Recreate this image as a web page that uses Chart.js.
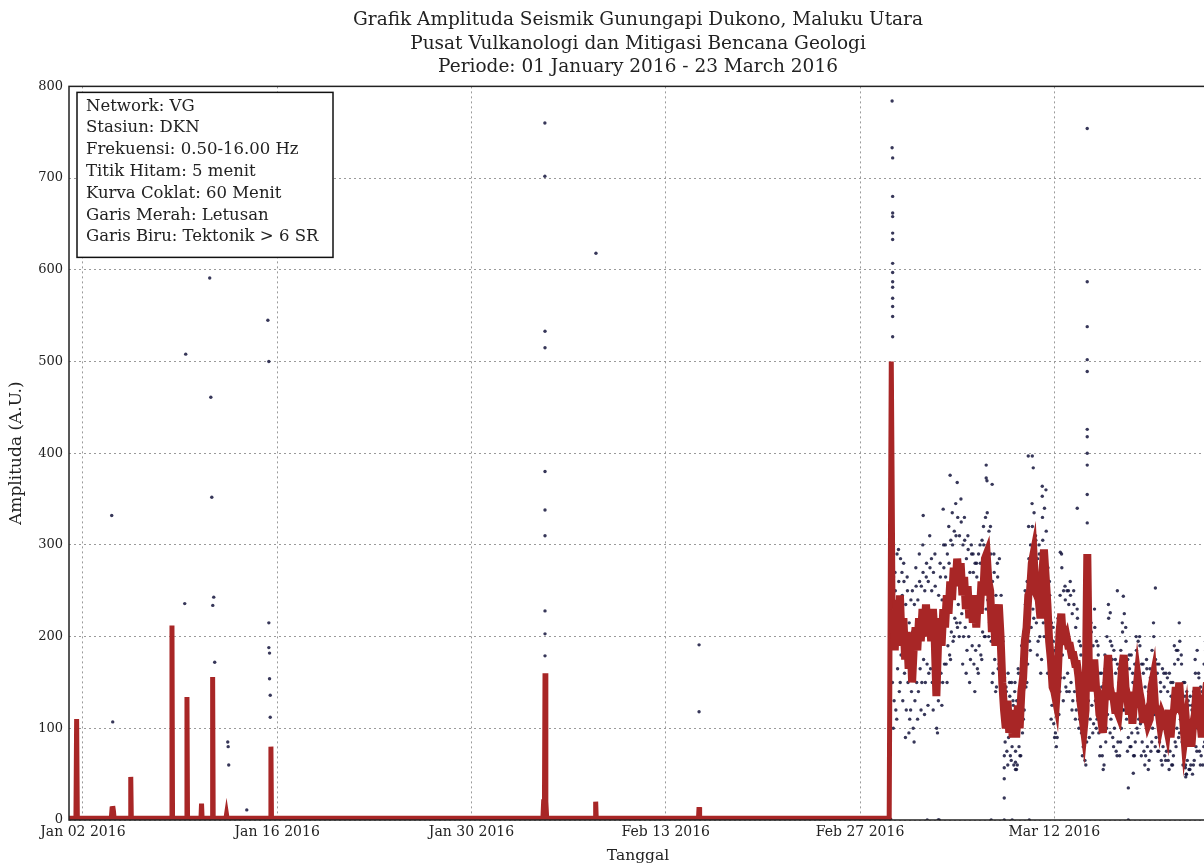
<!DOCTYPE html>
<html>
<head>
<meta charset="utf-8">
<script src="https://cdn.jsdelivr.net/npm/chart.js@4.4.1/dist/chart.umd.min.js"></script>
<style>
  html, body { margin: 0; padding: 0; background: #fff; overflow: hidden; }
  #wrap { width: 1212px; height: 868px; }
</style>
</head>
<body>
<div id="wrap"><canvas id="seismikChart" width="1212" height="868"></canvas></div>
<script>
// x values are days since 01 Jan 2016 00:00
const tickDays = [1, 15, 29, 43, 57, 71];
const tickLabels = ['Jan 02 2016', 'Jan 16 2016', 'Jan 30 2016', 'Feb 13 2016', 'Feb 27 2016', 'Mar 12 2016'];

const titleLines = [
    'Grafik Amplituda Seismik Gunungapi Dukono, Maluku Utara',
    'Pusat Vulkanologi dan Mitigasi Bencana Geologi',
    'Periode: 01 January 2016 - 23 March 2016'
];

const infoLines = [
    'Network: VG',
    'Stasiun: DKN',
    'Frekuensi: 0.50-16.00 Hz',
    'Titik Hitam: 5 menit',
    'Kurva Coklat: 60 Menit',
    'Garis Merah: Letusan',
    'Garis Biru: Tektonik > 6 SR'
];

// 60 minute curve, quiet period (day, amplitude)
const redEarly = [
    [0, 2], [0.5, 2], [0.55, 110], [0.6, 2], [3.05, 2], [3.1, 12], [3.15, 15], [3.2, 10], [3.25, 2],
    [4.41, 2], [4.45, 47], [4.49, 2], [7.38, 2], [7.42, 212], [7.46, 2], [8.46, 2], [8.5, 134], [8.54, 2],
    [9.51, 2], [9.55, 18], [9.59, 2], [10.31, 2], [10.35, 156], [10.39, 2], [11.31, 2], [11.35, 6], [11.39, 2],
    [14.51, 2], [14.55, 80], [14.59, 2], [34.15, 2], [34.2, 20], [34.26, 20], [34.3, 160], [34.36, 20], [34.42, 2],
    [37.91, 2], [37.95, 20], [37.99, 2], [45.36, 2], [45.4, 14], [45.44, 2], [59.1, 2]
];

// 60 minute curve, active period, one value every 3 hours from day 59.125
const activeStart = 59.125;
const activeStep = 0.125;
const redActive = [
    2, 500, 230, 185, 240, 200, 245, 190,
    220, 175, 205, 165, 200, 150, 190, 210,
    185, 220, 195, 230, 200, 235, 205, 225,
    195, 230, 200, 135, 195, 220, 190, 230,
    210, 245, 225, 260, 240, 275, 255, 285,
    260, 280, 245, 265, 230, 255, 220, 245,
    215, 240, 210, 245, 225, 260, 245, 285,
    290, 260, 250, 205, 230, 190, 220, 235,
    200, 150, 120, 100, 130, 95, 120, 90,
    115, 90, 125, 100, 140, 155, 195, 210,
    245, 250, 280, 290, 255, 245, 240, 220,
    265, 295, 265, 235, 195, 175, 145, 140,
    130, 160, 205, 225, 195, 195, 200, 190,
    190, 180, 180, 170, 170, 155, 130, 115,
    100, 120, 290, 145, 170, 140, 175, 145,
    140, 115, 110, 95, 130, 150, 180, 145,
    135, 135, 120, 120, 115, 135, 165, 180,
    145, 135, 115, 140, 105, 130, 135, 155,
    140, 130, 110, 110, 115, 105, 110, 145,
    155, 125, 120, 120, 105, 115, 110, 110,
    100, 120, 90, 115, 120, 145, 125, 150,
    120, 115, 90, 105, 80, 100, 80, 105,
    115, 145, 110, 110, 90, 130, 135, 150
];

// 5 minute points around the curve in the active period (same 3 hour slots)
const dotsA = [
    1, 280, 265, 250, 290, 260, 285, 245,
    260, 235, 250, 215, 240, 205, 235, 255,
    240, 260, 255, 270, 250, 280, 260, 275,
    250, 270, 255, 180, 245, 265, 240, 275,
    265, 290, 280, 305, 300, 315, 310, 330,
    310, 325, 300, 305, 285, 295, 270, 290,
    270, 280, 265, 290, 280, 305, 300, 330,
    335, 315, 290, 260, 270, 245, 265, 285,
    245, 195, 155, 140, 160, 135, 150, 125,
    150, 130, 160, 145, 175, 205, 235, 260,
    285, 300, 320, 335, 305, 285, 290, 265,
    305, 340, 315, 275, 245, 215, 195, 185,
    175, 205, 245, 275, 250, 240, 250, 235,
    245, 225, 235, 210, 220, 195, 180, 160,
    140, 160, 190, 195, 205, 190, 210, 195,
    180, 160, 145, 140, 165, 200, 220, 195,
    175, 185, 160, 170, 150, 185, 205, 225,
    195, 175, 165, 180, 150, 170, 185, 195,
    190, 170, 160, 145, 165, 140, 155, 185,
    200, 175, 160, 170, 140, 165, 145, 160,
    140, 160, 135, 150, 170, 185, 175, 195,
    170, 150, 135, 140, 125, 135, 120, 140,
    160, 185, 155, 145, 135, 170, 185, 195
];
const dotsB = [
    1, 150, 130, 120, 165, 140, 180, 130,
    160, 120, 150, 110, 140, 100, 130, 150,
    140, 165, 150, 175, 150, 170, 160, 165,
    150, 175, 150, 95, 150, 160, 150, 170,
    170, 190, 180, 205, 195, 220, 215, 235,
    215, 225, 200, 210, 185, 200, 175, 190,
    170, 185, 165, 190, 180, 205, 200, 230,
    240, 215, 195, 160, 175, 145, 165, 180,
    160, 110, 85, 75, 90, 70, 80, 60,
    75, 60, 80, 70, 95, 120, 145, 170,
    195, 210, 230, 245, 215, 195, 200, 175,
    215, 250, 225, 185, 155, 125, 105, 95,
    90, 115, 155, 180, 155, 145, 160, 140,
    150, 130, 140, 120, 130, 110, 95, 80,
    65, 85, 130, 110, 125, 105, 130, 110,
    95, 80, 70, 60, 85, 115, 135, 110,
    90, 100, 75, 85, 70, 100, 120, 140,
    110, 90, 80, 95, 70, 85, 100, 110,
    105, 85, 75, 70, 80, 65, 75, 100,
    115, 90, 75, 85, 65, 80, 70, 75,
    65, 75, 60, 70, 85, 100, 90, 110,
    85, 70, 60, 65, 55, 60, 50, 65,
    80, 100, 75, 70, 60, 85, 100, 110
];
const dotsC = [
    1, 300, 100, 270, 110, 295, 150, 270,
    280, 90, 265, 95, 120, 250, 85, 275,
    110, 290, 120, 300, 115, 265, 125, 310,
    285, 120, 290, 100, 130, 280, 125, 300,
    300, 150, 320, 175, 335, 200, 345, 210,
    200, 350, 170, 330, 160, 310, 150, 300,
    290, 140, 280, 160, 300, 175, 320, 200,
    370, 200, 320, 150, 290, 140, 280, 170,
    150, 200, 70, 145, 60, 150, 65, 130,
    140, 55, 165, 70, 190, 110, 250, 150,
    320, 185, 345, 220, 310, 180, 300, 160,
    330, 200, 360, 160, 260, 110, 210, 90,
    80, 220, 140, 290, 130, 255, 140, 250,
    260, 120, 250, 110, 230, 100, 190, 70,
    155, 60, 230, 90, 215, 95, 230, 100,
    190, 70, 160, 55, 180, 100, 235, 95,
    190, 80, 175, 70, 165, 85, 215, 120,
    210, 75, 180, 80, 160, 70, 200, 95,
    200, 70, 170, 60, 175, 55, 165, 85,
    215, 80, 170, 75, 150, 60, 160, 65,
    155, 55, 150, 60, 190, 80, 185, 95,
    180, 60, 150, 50, 130, 55, 125, 60,
    175, 75, 160, 60, 140, 80, 195, 90
];

// isolated 5 minute points (day, amplitude)
const dotsOutliers = [
    [3.08, 332], [3.15, 107], [8.34, 236], [8.41, 508], [10.14, 591], [10.22, 461], [10.29, 352],
    [10.43, 243], [10.36, 234], [10.5, 172], [11.44, 85], [11.47, 80], [11.51, 60], [12.81, 11],
    [14.33, 545], [14.4, 500], [14.4, 215], [14.4, 188], [14.45, 182], [14.45, 154], [14.5, 136], [14.5, 112],
    [34.29, 760], [34.29, 702], [34.3, 533], [34.3, 515], [34.3, 380], [34.3, 338], [34.3, 310],
    [34.3, 228], [34.3, 203], [34.3, 179], [37.97, 618], [45.4, 191], [45.4, 118],
    [59.31, 784], [59.31, 733], [59.35, 722], [59.35, 680], [59.35, 662], [59.35, 658], [59.35, 640],
    [59.35, 633], [59.35, 607], [59.35, 597], [59.35, 587], [59.35, 581], [59.35, 569], [59.35, 560],
    [59.35, 549], [59.35, 527],
    [73.37, 754], [73.37, 587], [73.37, 538], [73.37, 502], [73.37, 489], [73.37, 426], [73.37, 418],
    [73.37, 400], [73.37, 387], [73.37, 355], [73.37, 324], [72.65, 340], [78.28, 253],
    [63.49, 376], [64.0, 368], [66.09, 387], [66.09, 373], [66.52, 366], [61.55, 332], [62.99, 339],
    [69.48, 384], [69.12, 397], [69.41, 397], [70.13, 364], [70.13, 353], [71.43, 292], [75.54, 250],
    [75.97, 244], [75.03, 226], [80.0, 215],
    [61.84, 0], [62.63, 0], [62.7, 0], [66.45, 0], [67.39, 0], [67.96, 0], [69.19, 0], [76.33, 0],
    [67.39, 24], [67.39, 57], [67.39, 45], [68.2, 63], [68.2, 55], [76.33, 35], [76.69, 51],
    [80.44, 57], [80.5, 50], [80.47, 47]
];

function activePoints(values, offset) {
    return values.map((v, i) => ({ x: activeStart + i * activeStep + offset, y: v }));
}

function buildRedCurve() {
    const early = redEarly.map(p => ({ x: p[0], y: p[1] }));
    return early.concat(activePoints(redActive, 0));
}

function buildDots() {
    const pts = dotsOutliers.map(p => ({ x: p[0], y: p[1] }));
    return pts.concat(activePoints(dotsA, 0.04), activePoints(dotsB, 0.08), activePoints(dotsC, 0.02));
}

const serif = "'DejaVu Serif', 'Liberation Serif', serif";

const frameAndInfo = {
    id: 'frameAndInfo',
    afterDraw(chart) {
        const ctx = chart.ctx;
        const a = chart.chartArea;
        ctx.save();
        ctx.strokeStyle = '#222';
        ctx.lineWidth = 1.5;
        ctx.strokeRect(a.left, a.top, a.right - a.left, a.bottom - a.top);

        const bx = a.left + 8, by = a.top + 6, bw = 256, bh = 165;
        ctx.fillStyle = '#fff';
        ctx.fillRect(bx, by, bw, bh);
        ctx.strokeStyle = '#111';
        ctx.lineWidth = 1.5;
        ctx.strokeRect(bx, by, bw, bh);
        ctx.fillStyle = '#222';
        ctx.font = '16.5px ' + serif;
        ctx.textBaseline = 'middle';
        ctx.textAlign = 'left';
        infoLines.forEach((line, i) => {
            ctx.fillText(line, bx + 9, by + 14 + i * 21.8);
        });
        ctx.restore();
    }
};

const ctx = document.getElementById('seismikChart').getContext('2d');
new Chart(ctx, {
    type: 'line',
    data: {
        datasets: [
            {
                type: 'scatter',
                label: '5 menit',
                data: buildDots(),
                pointRadius: 1.7,
                pointBackgroundColor: 'rgba(20, 20, 60, 0.85)',
                pointBorderWidth: 0,
                order: 2
            },
            {
                label: '60 Menit',
                data: buildRedCurve(),
                borderColor: '#a82626',
                borderWidth: 5,
                segment: {
                    borderWidth: c => (c.p0.parsed.x > 59.3 ? 8 : 5)
                },
                pointRadius: 0,
                tension: 0,
                fill: false,
                order: 1
            }
        ]
    },
    options: {
        responsive: false,
        animation: false,
        devicePixelRatio: 1,
        layout: { padding: { left: 4, right: 5, top: 0, bottom: 2 } },
        plugins: {
            legend: { display: false },
            tooltip: { enabled: false },
            title: {
                display: true,
                text: titleLines,
                fullSize: false,
                color: '#222',
                font: { family: serif, size: 18.5, weight: 'normal', lineHeight: 1.25 },
                padding: { top: 9, bottom: 8 }
            }
        },
        scales: {
            x: {
                type: 'linear',
                min: 0,
                max: 82,
                afterBuildTicks: scale => {
                    scale.ticks = tickDays.map(v => ({ value: v }));
                },
                afterFit: scale => { scale.height = 46; },
                ticks: {
                    callback: v => tickLabels[tickDays.indexOf(v)],
                    color: '#222',
                    font: { family: serif, size: 14 },
                    padding: 4,
                    maxRotation: 0,
                    autoSkip: false
                },
                grid: { color: '#9a9a9a', drawTicks: false },
                border: { display: false, dash: [2, 3] },
                title: {
                    display: true,
                    text: 'Tanggal',
                    color: '#222',
                    font: { family: serif, size: 15.5 },
                    padding: { top: 0, bottom: 1 }
                }
            },
            y: {
                min: 0,
                max: 800,
                afterFit: scale => { scale.width = 65; },
                ticks: {
                    stepSize: 100,
                    color: '#222',
                    font: { family: serif, size: 13 },
                    padding: 6
                },
                grid: { color: '#9a9a9a', drawTicks: false },
                border: { display: false, dash: [2, 3] },
                title: {
                    display: true,
                    text: 'Amplituda (A.U.)',
                    color: '#222',
                    font: { family: serif, size: 17 },
                    padding: { top: 2, bottom: 0 }
                }
            }
        }
    },
    plugins: [frameAndInfo]
});
</script>
</body>
</html>
